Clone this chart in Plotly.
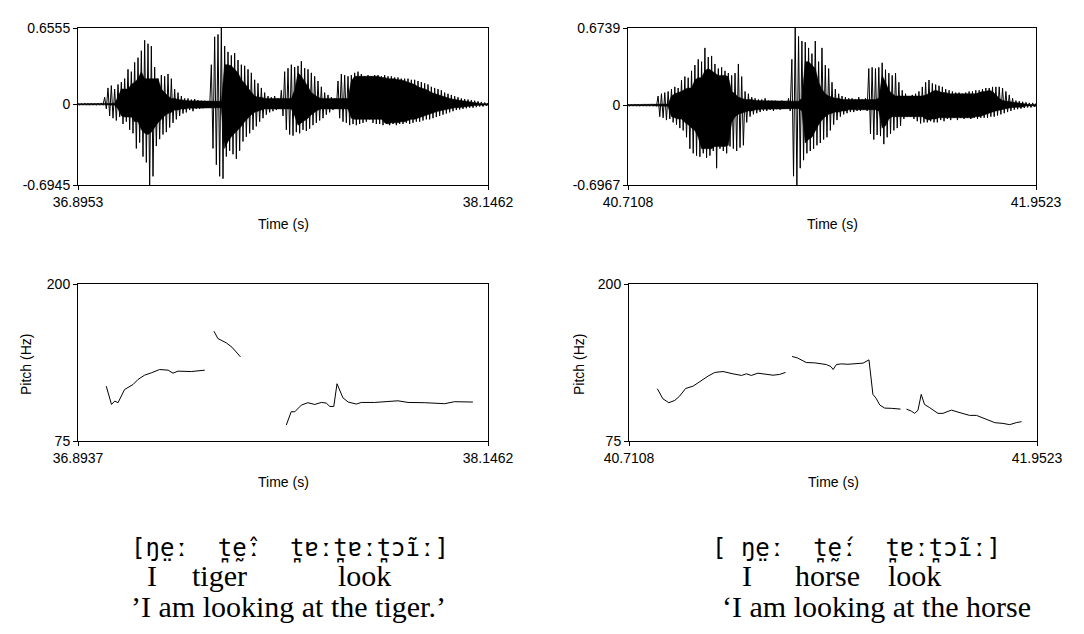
import numpy as np
import plotly.graph_objects as go

# ---------------- Left utterance: 'I am looking at the tiger.' ----------------
wave_l_range = [36.8953, 38.1462]
wave_l_yrange = [-0.6945, 0.6555]
wave_l_upper = [
    0.006, 0.005, 0.007, 0.005, 0.006, 0.005, 0.007, 0.008, 0.06, 0.14,
    0.16, 0.13, 0.17, 0.19, 0.22, 0.30, 0.28, 0.36, 0.40, 0.46,
    0.55, 0.52, 0.50, 0.32, 0.22, 0.25, 0.24, 0.26, 0.22, 0.13,
    0.10, 0.07, 0.05, 0.05, 0.04, 0.045, 0.035, 0.03, 0.03, 0.025,
    0.34, 0.58, 0.60, 0.655, 0.50, 0.45, 0.42, 0.44, 0.38, 0.34,
    0.33, 0.30, 0.27, 0.21, 0.18, 0.14, 0.10, 0.07, 0.06, 0.07,
    0.05, 0.12, 0.28, 0.31, 0.34, 0.32, 0.33, 0.37, 0.31, 0.30,
    0.27, 0.24, 0.20, 0.15, 0.10, 0.08, 0.06, 0.05, 0.20, 0.26,
    0.25, 0.24, 0.25, 0.27, 0.28, 0.26, 0.24, 0.25, 0.24, 0.25,
    0.25, 0.24, 0.25, 0.24, 0.24, 0.23, 0.23, 0.22, 0.22, 0.22,
    0.21, 0.21, 0.20, 0.19, 0.18, 0.17, 0.15, 0.14, 0.13, 0.12,
    0.10, 0.09, 0.08, 0.07, 0.06, 0.05, 0.045, 0.04, 0.035, 0.03,
    0.025, 0.02, 0.015, 0.01,
]
wave_l_lower = [
    -0.006, -0.007, -0.005, -0.006, -0.007, -0.006, -0.005, -0.008, -0.04, -0.10,
    -0.12, -0.14, -0.11, -0.17, -0.15, -0.22, -0.25, -0.38, -0.33, -0.45,
    -0.50, -0.6945, -0.62, -0.36, -0.30, -0.26, -0.24, -0.20, -0.16, -0.13,
    -0.10, -0.08, -0.07, -0.05, -0.06, -0.04, -0.04, -0.035, -0.03, -0.03,
    -0.38, -0.52, -0.62, -0.64, -0.45, -0.40, -0.43, -0.47, -0.40, -0.32,
    -0.28, -0.25, -0.22, -0.19, -0.15, -0.12, -0.09, -0.07, -0.06, -0.05,
    -0.04, -0.10, -0.22, -0.26, -0.27, -0.24, -0.25, -0.22, -0.23, -0.21,
    -0.18, -0.16, -0.14, -0.12, -0.09, -0.07, -0.05, -0.04, -0.12, -0.15,
    -0.16, -0.18, -0.17, -0.18, -0.17, -0.16, -0.15, -0.13, -0.16, -0.17,
    -0.17, -0.18, -0.17, -0.18, -0.17, -0.18, -0.17, -0.17, -0.16, -0.17,
    -0.16, -0.15, -0.15, -0.14, -0.13, -0.13, -0.12, -0.11, -0.10, -0.09,
    -0.08, -0.07, -0.06, -0.05, -0.045, -0.04, -0.035, -0.03, -0.03, -0.025,
    -0.02, -0.02, -0.015, -0.01,
]
pitch_l_range = [36.8937, 38.1462]
pitch_l_t = [
    36.980, 36.996, 37.006, 37.016, 37.036, 37.062, 37.077, 37.097, 37.118,
    37.143, 37.169, 37.184, 37.199, 37.240, 37.281, None,
    37.309, 37.321, 37.347, 37.364, 37.390, None,
    37.530, 37.545, 37.556, 37.576, 37.596, 37.617, 37.637, 37.652, 37.663,
    37.675, 37.685, 37.703, 37.719, 37.744, 37.759, 37.800, 37.871, 37.902,
    37.953, 38.014, 38.044, 38.100,
]
pitch_l_hz = [
    118.7, 104.1, 106.8, 105.5, 116.0, 120.0, 124.0, 127.4, 129.3,
    131.9, 131.4, 129.0, 130.6, 130.3, 131.4, None,
    162.4, 156.6, 153.1, 149.7, 142.0, None,
    87.7, 98.3, 98.3, 103.6, 105.5, 104.1, 105.7, 105.2, 102.5,
    102.5, 120.6, 109.4, 106.0, 104.4, 105.7, 105.7, 107.0, 105.7,
    105.5, 104.7, 106.3, 106.0,
]

# ---------------- Right utterance: 'I am looking at the horse' ----------------
wave_r_range = [40.7108, 41.9523]
wave_r_yrange = [-0.6967, 0.6739]
wave_r_upper = [
    0.006, 0.005, 0.007, 0.006, 0.005, 0.007, 0.006, 0.008, 0.01, 0.08,
    0.10, 0.11, 0.12, 0.14, 0.16, 0.15, 0.22, 0.25, 0.24, 0.30,
    0.35, 0.40, 0.38, 0.50, 0.42, 0.43, 0.36, 0.32, 0.33, 0.30,
    0.28, 0.26, 0.28, 0.36, 0.25, 0.12, 0.10, 0.07, 0.06, 0.05,
    0.05, 0.06, 0.04, 0.04, 0.04, 0.035, 0.04, 0.035, 0.06, 0.40,
    0.6739, 0.60, 0.56, 0.55, 0.50, 0.45, 0.56, 0.38, 0.50, 0.35,
    0.32, 0.20, 0.14, 0.10, 0.08, 0.07, 0.06, 0.06, 0.05, 0.07,
    0.05, 0.06, 0.32, 0.33, 0.32, 0.33, 0.37, 0.31, 0.28, 0.26,
    0.28, 0.20, 0.13, 0.10, 0.08, 0.09, 0.10, 0.12, 0.16, 0.20,
    0.22, 0.19, 0.18, 0.17, 0.16, 0.14, 0.13, 0.12, 0.11, 0.11,
    0.10, 0.11, 0.12, 0.12, 0.13, 0.13, 0.14, 0.15, 0.15, 0.16,
    0.16, 0.16, 0.15, 0.12, 0.09, 0.06, 0.04, 0.035, 0.03, 0.025,
    0.02, 0.02, 0.015,
]
wave_r_lower = [
    -0.006, -0.007, -0.005, -0.006, -0.007, -0.005, -0.006, -0.008, -0.01, -0.10,
    -0.11, -0.13, -0.12, -0.15, -0.17, -0.20, -0.22, -0.28, -0.38, -0.42,
    -0.44, -0.45, -0.42, -0.46, -0.44, -0.40, -0.55, -0.38, -0.40, -0.42,
    -0.36, -0.38, -0.40, -0.37, -0.35, -0.15, -0.10, -0.08, -0.07, -0.06,
    -0.05, -0.05, -0.04, -0.05, -0.035, -0.04, -0.03, -0.03, -0.05, -0.62,
    -0.6967, -0.55, -0.48, -0.42, -0.40, -0.38, -0.35, -0.33, -0.30, -0.28,
    -0.22, -0.17, -0.13, -0.10, -0.08, -0.07, -0.06, -0.06, -0.05, -0.05,
    -0.04, -0.05, -0.25, -0.30, -0.26, -0.27, -0.34, -0.28, -0.25, -0.22,
    -0.20, -0.18, -0.12, -0.10, -0.10, -0.12, -0.14, -0.16, -0.15, -0.15,
    -0.14, -0.15, -0.15, -0.13, -0.14, -0.12, -0.13, -0.11, -0.13, -0.11,
    -0.12, -0.11, -0.12, -0.11, -0.12, -0.11, -0.11, -0.11, -0.10, -0.10,
    -0.09, -0.08, -0.07, -0.06, -0.05, -0.04, -0.035, -0.03, -0.025, -0.02,
    -0.02, -0.015, -0.015,
]
pitch_r_range = [40.7108, 41.9523]
pitch_r_t = [
    40.797, 40.814, 40.832, 40.850, 40.865, 40.883, 40.906, 40.931, 40.951, 40.972,
    40.997, 41.027, 41.053, 41.068, 41.083, 41.103, 41.124, 41.149, 41.169, 41.187, None,
    41.207, 41.223, 41.250, 41.276, 41.311, 41.325, 41.332, 41.342, 41.357, 41.377,
    41.423, 41.441, 41.453, 41.463, 41.474, 41.489, 41.509, 41.537, None,
    41.555, 41.570, 41.580, 41.590, 41.600, 41.610, 41.626, 41.651, 41.666, 41.692,
    41.712, 41.732, 41.747, 41.768, 41.793, 41.824, 41.849, 41.869, 41.889, 41.905,
]
pitch_r_hz = [
    116.6, 108.6, 105.5, 107.3, 110.8, 116.8, 118.7, 123.2, 126.6, 129.6,
    130.3, 128.5, 127.2, 128.5, 127.2, 129.0, 128.0, 127.4, 128.0, 129.6, None,
    142.3, 141.2, 137.5, 137.2, 135.9, 134.3, 131.9, 135.9, 136.4, 136.1,
    137.0, 139.6, 112.1, 108.9, 103.6, 101.2, 101.0, 100.4, None,
    100.4, 98.8, 97.0, 99.4, 112.1, 104.1, 101.5, 97.0, 97.0, 99.6,
    98.0, 96.7, 95.4, 95.4, 93.0, 89.6, 89.0, 88.0, 89.6, 90.4,
]
pitch_yrange = [75, 200]

# ---------------- Texts ----------------
ipa_left = "[ŋe\u0324ː\u00a0\u00a0t\u032a\u00ea\u0330ː\u00a0\u00a0t\u032aɐːt\u032aɐːt\u032aɔĩː]"
ipa_right = "[\u00a0ŋe\u0324ː\u00a0\u00a0t\u032a\u00e9\u0330ː\u00a0\u00a0t\u032aɐːt\u032aɔĩː]"
gloss_left = ["I", "tiger", "look"]
gloss_right = ["I", "horse", "look"]
trans_left = "\u2019I am looking at the tiger.\u2019"
trans_right = "\u2018I am looking at the horse"


def zigzag(rng, upper, lower):
    n = min(len(upper), len(lower))
    t = np.linspace(rng[0], rng[1], n)
    dt = t[1] - t[0]
    xs, ys = [], []
    for i in range(n):
        xs.append(t[i]); ys.append(upper[i])
        xs.append(min(t[i] + dt / 2, rng[1])); ys.append(lower[i])
    return xs, ys


def core(rng, upper, lower, k=4):
    # solid inner band where neighbouring peaks overlap (min over a window of neighbours)
    n = min(len(upper), len(lower))
    t = np.linspace(rng[0], rng[1], n)
    up = np.array(upper[:n]); lo = np.array(lower[:n])
    cu = up.copy(); cl = lo.copy()
    for s in range(1, k + 1):
        cu = np.minimum(cu, np.minimum(np.roll(up, s), np.roll(up, -s)))
        cl = np.maximum(cl, np.maximum(np.roll(lo, s), np.roll(lo, -s)))
    xs = list(t) + list(t[::-1])
    ys = list(cu) + list(cl[::-1])
    return xs, ys


W, H = 1084, 634
fig = go.Figure()

line = dict(color="black", width=1)
for rng, up, lo, xa, ya in [(wave_l_range, wave_l_upper, wave_l_lower, "x", "y"),
                            (wave_r_range, wave_r_upper, wave_r_lower, "x3", "y3")]:
    cx, cy = core(rng, up, lo)
    fig.add_trace(go.Scatter(x=cx, y=cy, mode="lines", fill="toself", fillcolor="black",
                             line=dict(color="black", width=0.5), xaxis=xa, yaxis=ya, hoverinfo="skip"))
    zx, zy = zigzag(rng, up, lo)
    fig.add_trace(go.Scatter(x=zx, y=zy, mode="lines", line=line, xaxis=xa, yaxis=ya, hoverinfo="skip"))

fig.add_trace(go.Scatter(x=pitch_l_t, y=pitch_l_hz, mode="lines", line=line, xaxis="x2", yaxis="y2",
                         connectgaps=False, hoverinfo="skip"))
fig.add_trace(go.Scatter(x=pitch_r_t, y=pitch_r_hz, mode="lines", line=line, xaxis="x4", yaxis="y4",
                         connectgaps=False, hoverinfo="skip"))

tickfont = dict(family="Liberation Sans, Arial, sans-serif", size=14, color="black")


def fmt(v):
    return "0" if v == 0 else f"{v:g}"


def xax(dom, rng):
    return dict(domain=dom, range=rng, tickvals=rng, ticktext=[f"{v:.4f}" for v in rng],
                ticks="outside", ticklen=4, tickcolor="black", showline=True, linecolor="black",
                linewidth=1, mirror=True, showgrid=False, zeroline=False, tickfont=tickfont,
                fixedrange=True, automargin=False)


def yax(dom, rng, vals, anchor):
    return dict(domain=dom, range=rng, tickvals=vals, ticktext=[fmt(v) for v in vals],
                ticks="outside", ticklen=4, tickcolor="black", showline=True, linecolor="black",
                linewidth=1, mirror=True, showgrid=False, zeroline=False, tickfont=tickfont,
                anchor=anchor, fixedrange=True, automargin=False)


dxL = [70 / W, 480 / W]
dxR = [620 / W, 1028 / W]
dxR2 = [621 / W, 1029 / W]
dyW = [1 - 177 / H, 1 - 20 / H]
dyP = [1 - 433 / H, 1 - 276 / H]

fig.update_layout(
    width=W, height=H, margin=dict(l=0, r=0, t=0, b=0, pad=0, autoexpand=False),
    paper_bgcolor="white", plot_bgcolor="white", showlegend=False,
    xaxis=dict(**xax(dxL, wave_l_range), anchor="y"),
    yaxis=yax(dyW, wave_l_yrange, [wave_l_yrange[0], 0, wave_l_yrange[1]], "x"),
    xaxis2=dict(**xax(dxL, pitch_l_range), anchor="y2"),
    yaxis2=yax(dyP, pitch_yrange, pitch_yrange, "x2"),
    xaxis3=dict(**xax(dxR, wave_r_range), anchor="y3"),
    yaxis3=yax(dyW, wave_r_yrange, [wave_r_yrange[0], 0, wave_r_yrange[1]], "x3"),
    xaxis4=dict(**xax(dxR2, pitch_r_range), anchor="y4"),
    yaxis4=yax(dyP, pitch_yrange, pitch_yrange, "x4"),
)

ann = []
lab = dict(family="Liberation Sans, Arial, sans-serif", size=14, color="black")


def A(text, x, y, font, xanchor="center", yanchor="middle", angle=0):
    ann.append(dict(text=text, x=x / W, y=1 - y / H, xref="paper", yref="paper", showarrow=False,
                    xanchor=xanchor, yanchor=yanchor, font=font, textangle=angle))


A("Time (s)", 275, 216, lab)
A("Time (s)", 824, 216, lab)
A("Time (s)", 275, 474, lab)
A("Time (s)", 825, 474, lab)
A("Pitch (Hz)", 18, 357, lab, angle=-90)
A("Pitch (Hz)", 571, 357, lab, angle=-90)

mono = dict(family="DejaVu Sans Mono, Liberation Mono, monospace", size=24, color="black")
serif = dict(family="Liberation Serif, Times New Roman, serif", size=30, color="black")

A(ipa_left, 121, 540, mono, xanchor="left")
A(ipa_right, 702, 540, mono, xanchor="left")
for word, x in zip(gloss_left, [137, 182, 328]):
    A(word, x, 567, serif, xanchor="left")
for word, x in zip(gloss_right, [732, 785, 878]):
    A(word, x, 567, serif, xanchor="left")
A(trans_left, 121, 598, serif, xanchor="left")
A(trans_right, 712, 598, serif, xanchor="left")

fig.update_layout(annotations=ann)
fig.write_html("out.html")
